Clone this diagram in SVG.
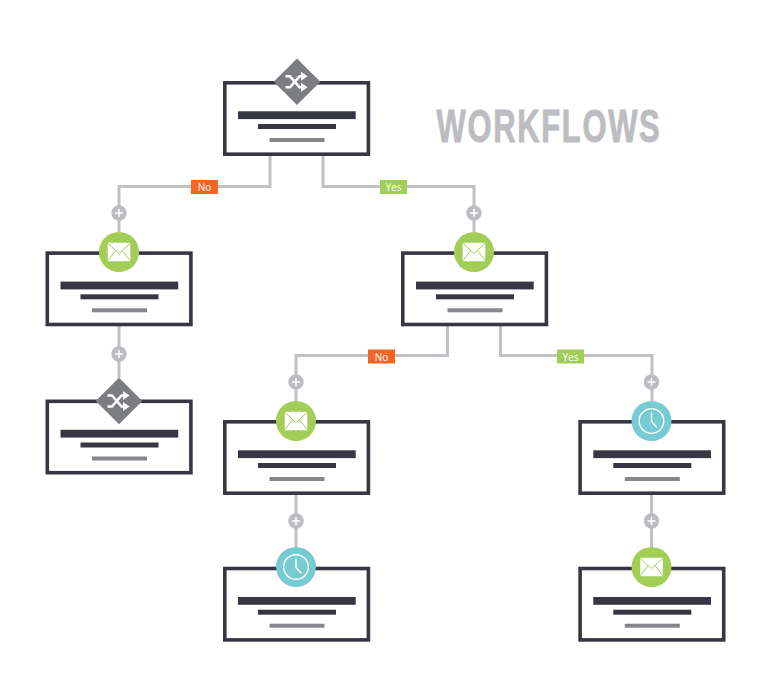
<svg xmlns="http://www.w3.org/2000/svg" width="767" height="695" viewBox="0 0 767 695">
<style>
.wire{fill:none;stroke:#c1c1c5;stroke-width:3}
.box{fill:#fff;stroke:#373643;stroke-width:3.6}
.b1{fill:#373643}
.b2{fill:#87878b}
.tag{font:10px "Open Sans","Liberation Sans",sans-serif;fill:#fff;text-anchor:middle}
.plus{fill:#bdbdc1}
.pl{stroke:#fff;stroke-width:1.5;fill:none}
.title{font:bold 47px "Liberation Sans",sans-serif;letter-spacing:2.5px;fill:#bdbdc1;stroke:#bdbdc1;stroke-width:0.9}
</style>
<defs>
<g id="card">
<rect class="box" x="1.8" y="1.8" width="143.6" height="71.4"/>
<rect class="b1" x="15" y="30.300" width="117.700" height="7.800"/>
<rect class="b1" x="35" y="43" width="78" height="5"/>
<rect class="b2" x="46.500" y="57" width="55" height="4"/>
</g>
<g id="mail">
<circle r="20" fill="#a1ce57"/>
<rect x="-11.300" y="-9.300" width="22.600" height="18.600" rx="0.800" fill="#fff"/>
<path d="M-11 -8.600L0 1.600L11 -8.600M-11 8.600L-3.400 -1.600M11 8.600L3.400 -1.600" fill="none" stroke="#a1ce57" stroke-width="1"/>
</g>
<g id="clock">
<circle r="20" fill="#77cbd2"/>
<circle r="12.300" fill="none" stroke="#fff" stroke-width="1.400"/>
<path d="M0 -8.500V0.500L5.500 6.500" fill="none" stroke="#fff" stroke-width="1.400"/>
</g>
<g id="shuffle">
<path d="M-23.300 0L0 -23.300L23.300 0L0 23.300Z" fill="#7c7d80"/>
<path d="M-11.500 -5.500H-7L2.500 5.500H6M-11.500 5.500H-7L2.500 -5.500H6" fill="none" stroke="#fff" stroke-width="2.600"/>
<path d="M4 -10L10.500 -5.500L4 -1ZM4 1L10.500 5.500L4 10Z" fill="#fff"/>
</g>
<g id="add">
<circle class="plus" r="7.700"/>
<path class="pl" d="M-4 0H4M0 -4V4"/>
</g>
</defs>
<rect width="767" height="695" fill="#fff"/>
<g id="connectors">
<path class="wire" d="M270 156V186.500H119V232"/>
<path class="wire" d="M323 156V186.500H474V232"/>
<path class="wire" d="M119 326V378"/>
<path class="wire" d="M447.500 326V355.500H296V401"/>
<path class="wire" d="M500.500 326V355.500H652V401"/>
<path class="wire" d="M296 495V547"/>
<path class="wire" d="M651.500 495V547"/>
</g>
<g id="node-top"><use href="#card" x="223" y="81"/><use href="#shuffle" x="297" y="81.800"/></g>
<g id="node-left"><use href="#card" x="45.500" y="251.300"/><use href="#mail" x="119" y="252"/></g>
<g id="node-right"><use href="#card" x="401" y="251.300"/><use href="#mail" x="474" y="252"/></g>
<g id="node-left-2"><use href="#card" x="45.500" y="399.500"/><use href="#shuffle" x="119" y="401"/></g>
<g id="node-mid"><use href="#card" x="223" y="420"/><use href="#mail" x="296" y="421"/></g>
<g id="node-far"><use href="#card" x="578.300" y="420"/><use href="#clock" x="651.500" y="421"/></g>
<g id="node-mid-2"><use href="#card" x="223" y="566.700"/><use href="#clock" x="296" y="567"/></g>
<g id="node-far-2"><use href="#card" x="578.300" y="566.700"/><use href="#mail" x="651.500" y="567"/></g>
<g id="adders">
<use href="#add" x="119" y="213"/>
<use href="#add" x="474" y="213"/>
<use href="#add" x="119" y="354"/>
<use href="#add" x="296" y="382"/>
<use href="#add" x="651.500" y="382"/>
<use href="#add" x="296" y="521"/>
<use href="#add" x="651.500" y="521"/>
</g>
<g id="labels">
<rect x="191" y="180" width="27" height="14" fill="#f26522"/><text class="tag" x="204.500" y="191">No</text>
<rect x="380" y="180" width="27" height="14" fill="#a1ce57"/><text class="tag" x="393.500" y="191">Yes</text>
<rect x="368" y="349.500" width="27" height="14" fill="#f26522"/><text class="tag" x="381.500" y="360.500">No</text>
<rect x="557" y="349.500" width="27" height="14" fill="#a1ce57"/><text class="tag" x="570.500" y="360.500">Yes</text>
</g>
<text class="title" transform="translate(436.500 141.500) scale(.66 1)">WORKFLOWS</text>
</svg>
